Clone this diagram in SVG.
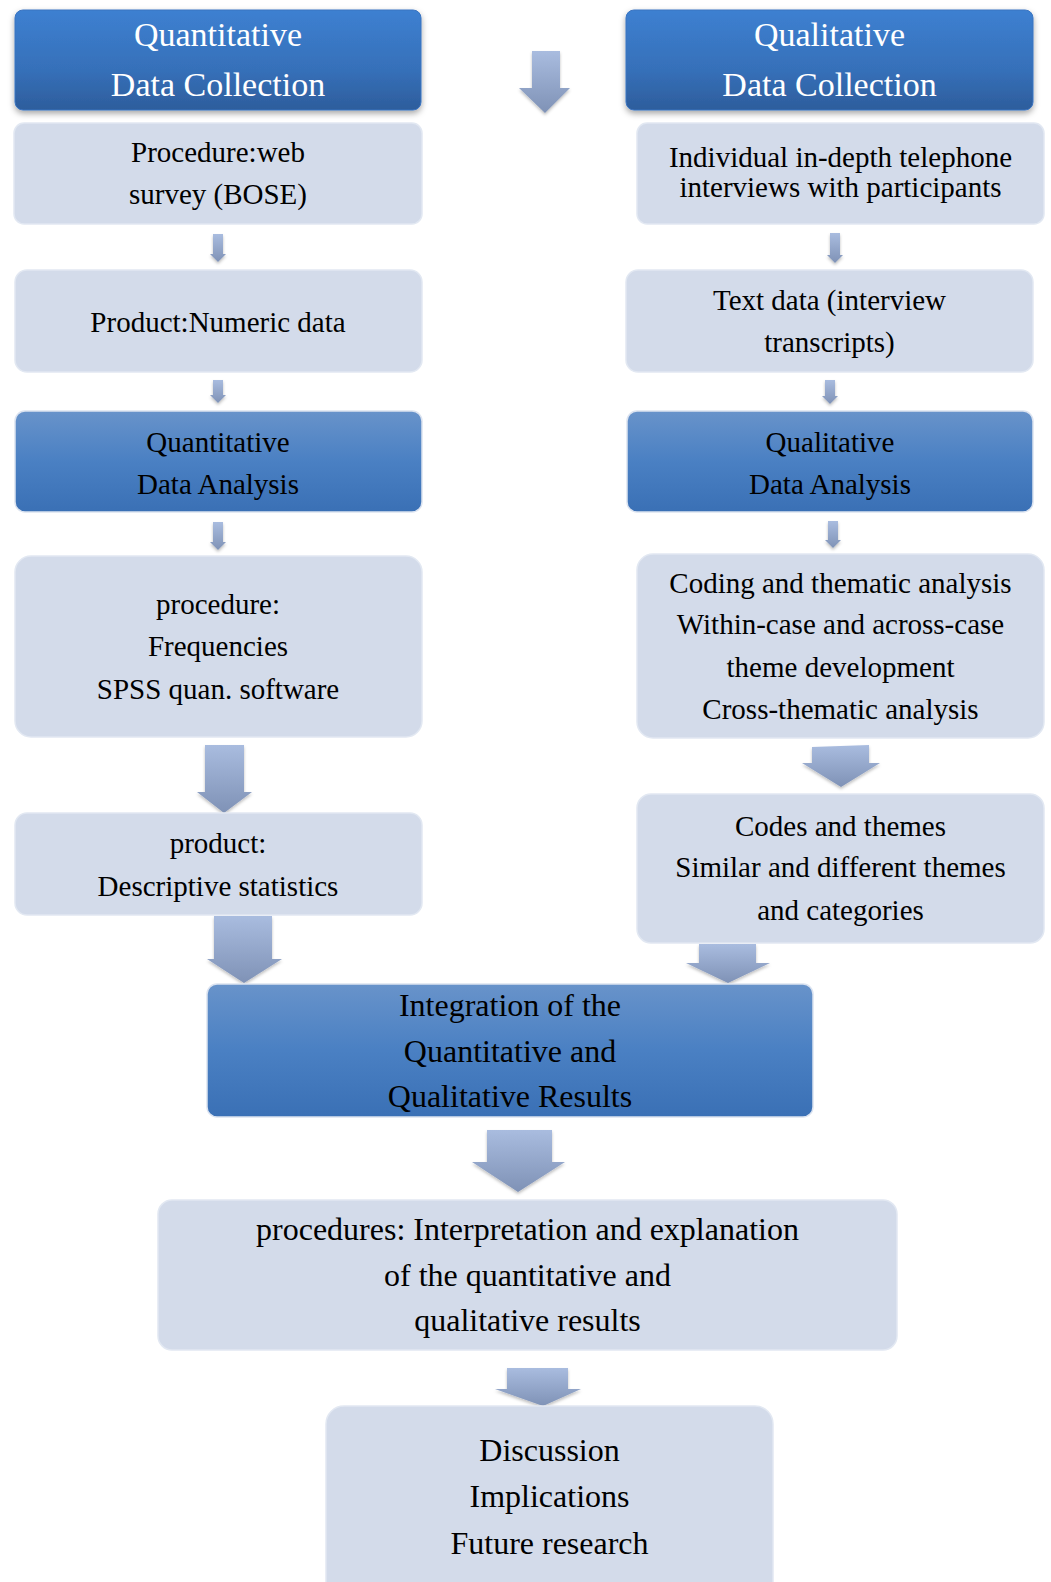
<svg xmlns="http://www.w3.org/2000/svg" width="1051" height="1582" viewBox="0 0 1051 1582">
<defs>
<linearGradient id="gDark" x1="0" y1="0" x2="0" y2="1">
<stop offset="0" stop-color="#3d80d1"/><stop offset="0.6" stop-color="#3670b9"/><stop offset="1" stop-color="#2d5d9c"/>
</linearGradient>
<linearGradient id="gMid" x1="0" y1="0" x2="0" y2="1">
<stop offset="0" stop-color="#6893ca"/><stop offset="0.5" stop-color="#4a80c3"/><stop offset="1" stop-color="#3a70b5"/>
</linearGradient>
<linearGradient id="gArrow" x1="0" y1="0" x2="0" y2="1">
<stop offset="0" stop-color="#a9bcdf"/><stop offset="1" stop-color="#7f92b6"/>
</linearGradient>
<filter id="shadow" x="-5%" y="-10%" width="110%" height="130%">
<feDropShadow dx="0" dy="3" stdDeviation="3" flood-color="#000" flood-opacity="0.35"/>
</filter>
<filter id="ashadow" x="-20%" y="-20%" width="140%" height="140%">
<feDropShadow dx="0" dy="2" stdDeviation="1.5" flood-color="#000" flood-opacity="0.25"/>
</filter>
</defs>
<style>
.light{fill:#d3dbea;stroke:#e2e8f2;stroke-width:1.5}
.dark{fill:url(#gDark);stroke:#3a74c0;stroke-width:1}
.mid{fill:url(#gMid);stroke:#dbe3f0;stroke-width:1.5}
.arr{fill:url(#gArrow);filter:url(#ashadow)}
text{font-family:"Liberation Serif","Times New Roman",serif;text-anchor:middle;fill:#000}
.t29{font-size:29px}
.t32{font-size:32px}
.h{font-size:34px;fill:#fff}
</style>
<rect width="1051" height="1582" fill="#fff"/>

<g id="connectors">
<path class="arr" d="M532,51 H560 V88 H570 L545,113 L519,88 H532 Z"/>
<path class="arr" d="M213,234 H223 V254 H226 L218,262 L210,254 H213 Z"/>
<path class="arr" d="M213,380 H223 V395 H226 L218,403 L210,395 H213 Z"/>
<path class="arr" d="M213,522 H223 V542 H226 L218,550 L210,542 H213 Z"/>
<path class="arr" d="M830,233 H840 V255 H843 L835,263 L827,255 H830 Z"/>
<path class="arr" d="M825,380 H835 V396 H838 L830,404 L822,396 H825 Z"/>
<path class="arr" d="M828,521 H838 V540 H841 L833,548 L825,540 H828 Z"/>
<path class="arr" d="M205,745 H244 V792 H252 L224,813 L197,792 H205 Z"/>
<path class="arr" d="M214,916 H272 V959 H282 L244,983 L207,959 H214 Z"/>
<path class="arr" d="M812,747 L869,745 V763 H880 L841,787 L802,763 H812 Z"/>
<path class="arr" d="M699,944 H756 V963 H770 L728,983 L686,963 H699 Z"/>
<path class="arr" d="M487,1130 H552 V1162 H565 L518,1192 L472,1162 H487 Z"/>
<path class="arr" d="M507,1368 H568 V1389 H581 L543,1406 L495,1389 H507 Z"/>
</g>

<g id="quant-collection">
<rect class="dark" x="15" y="10" width="406" height="100" rx="8" filter="url(#shadow)"/>
<text class="h" x="218" y="46">Quantitative</text>
<text class="h" x="218" y="96">Data Collection</text>
</g>
<g id="quant-procedure">
<rect class="light" x="14" y="123" width="408" height="101" rx="10"/>
<text class="t29" x="218" y="162">Procedure:web</text>
<text class="t29" x="218" y="204">survey (BOSE)</text>
</g>
<g id="quant-product">
<rect class="light" x="15" y="270" width="407" height="102" rx="12"/>
<text class="t29" x="218" y="332">Product:Numeric data</text>
</g>
<g id="quant-analysis">
<rect class="mid" x="15" y="411" width="407" height="101" rx="10"/>
<text class="t29" x="218" y="452">Quantitative</text>
<text class="t29" x="218" y="494">Data Analysis</text>
</g>
<g id="quant-analysis-procedure">
<rect class="light" x="15" y="556" width="407" height="181" rx="16"/>
<text class="t29" x="218" y="614">procedure:</text>
<text class="t29" x="218" y="656">Frequencies</text>
<text class="t29" x="218" y="699">SPSS quan. software</text>
</g>
<g id="quant-analysis-product">
<rect class="light" x="15" y="813" width="407" height="102" rx="12"/>
<text class="t29" x="218" y="853">product:</text>
<text class="t29" x="218" y="896">Descriptive statistics</text>
</g>

<g id="qual-collection">
<rect class="dark" x="626" y="10" width="407" height="100" rx="8" filter="url(#shadow)"/>
<text class="h" x="829.5" y="46">Qualitative</text>
<text class="h" x="829.5" y="96">Data Collection</text>
</g>
<g id="qual-procedure">
<rect class="light" x="637" y="123" width="407" height="101" rx="10"/>
<text class="t29" x="840.5" y="167">Individual in-depth telephone</text>
<text class="t29" x="840.5" y="197">interviews with participants</text>
</g>
<g id="qual-product">
<rect class="light" x="626" y="270" width="407" height="102" rx="12"/>
<text class="t29" x="829.5" y="310">Text data (interview</text>
<text class="t29" x="829.5" y="352">transcripts)</text>
</g>
<g id="qual-analysis">
<rect class="mid" x="627" y="411" width="406" height="101" rx="10"/>
<text class="t29" x="830" y="452">Qualitative</text>
<text class="t29" x="830" y="494">Data Analysis</text>
</g>
<g id="qual-analysis-procedure">
<rect class="light" x="637" y="554" width="407" height="184" rx="16"/>
<text class="t29" x="840.5" y="593">Coding and thematic analysis</text>
<text class="t29" x="840.5" y="634">Within-case and across-case</text>
<text class="t29" x="840.5" y="677">theme development</text>
<text class="t29" x="840.5" y="719">Cross-thematic analysis</text>
</g>
<g id="qual-analysis-product">
<rect class="light" x="637" y="794" width="407" height="149" rx="14"/>
<text class="t29" x="840.5" y="836">Codes and themes</text>
<text class="t29" x="840.5" y="877">Similar and different themes</text>
<text class="t29" x="840.5" y="920">and categories</text>
</g>

<g id="integration">
<rect class="mid" x="207" y="984" width="606" height="133" rx="10"/>
<text class="t32" x="510" y="1016">Integration of the</text>
<text class="t32" x="510" y="1062">Quantitative and</text>
<text class="t32" x="510" y="1107">Qualitative Results</text>
</g>
<g id="interpretation">
<rect class="light" x="158" y="1200" width="739" height="150" rx="14"/>
<text class="t32" x="527.5" y="1240">procedures: Interpretation and explanation</text>
<text class="t32" x="527.5" y="1286">of the quantitative and</text>
<text class="t32" x="527.5" y="1331">qualitative results</text>
</g>
<g id="discussion">
<rect class="light" x="326" y="1406" width="447" height="200" rx="18"/>
<text class="t32" x="549.5" y="1461">Discussion</text>
<text class="t32" x="549.5" y="1507">Implications</text>
<text class="t32" x="549.5" y="1554">Future research</text>
</g>
</svg>
